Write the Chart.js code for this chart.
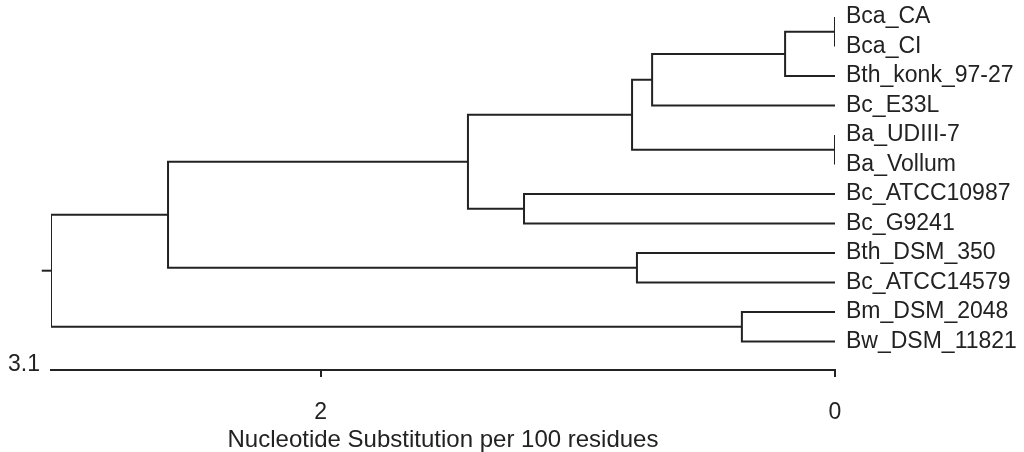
<!DOCTYPE html>
<html>
<head>
<meta charset="utf-8">
<script src="https://cdn.jsdelivr.net/npm/chart.js@4"></script>
<style>
  body { margin: 0; background: #fff; }
</style>
</head>
<body>
<canvas id="tree" width="1024" height="452"></canvas>
<script>
// leaves, top to bottom
var leafNames = ['Bca_CA', 'Bca_CI', 'Bth_konk_97-27', 'Bc_E33L', 'Ba_UDIII-7', 'Ba_Vollum',
    'Bc_ATCC10987', 'Bc_G9241', 'Bth_DSM_350', 'Bc_ATCC14579', 'Bm_DSM_2048', 'Bw_DSM_11821'];

// merges: ids 0-11 are leaves, merge k gets id 12 + k
var mergeLeft   = [0, 4, 12, 14, 15, 6, 16, 8, 18, 10, 20];
var mergeRight  = [1, 5, 2, 3, 13, 7, 17, 9, 19, 11, 21];
var mergeHeight = [0, 0, 0.194, 0.711, 0.789, 1.209, 1.427, 0.770, 2.593, 0.362, 3.048];
var rootStub = 3.084;

var xTicks = [2, 0];
var axisMaxLabel = '3.1';
var axisTitle = 'Nucleotide Substitution per 100 residues';

var ink = '#222';
var fontName = "'Liberation Sans', Arial, sans-serif";

// position of every node: height and vertical slot
var nodeX = [], nodeY = [];
leafNames.forEach(function (n, i) { nodeX.push(0); nodeY.push(i); });
mergeHeight.forEach(function (h, k) {
    nodeX.push(h);
    nodeY.push((nodeY[mergeLeft[k]] + nodeY[mergeRight[k]]) / 2);
});

var datasets = mergeHeight.map(function (h, k) {
    var a = mergeLeft[k], b = mergeRight[k];
    return {
        data: [
            {x: nodeX[a], y: nodeY[a]},
            {x: h, y: nodeY[a]},
            {x: h, y: nodeY[b]},
            {x: nodeX[b], y: nodeY[b]}
        ]
    };
});
var root = nodeX.length - 1;
datasets.push({
    data: [{x: nodeX[root], y: nodeY[root]}, {x: rootStub, y: nodeY[root]}],
    clip: false
});
datasets.forEach(function (d) {
    d.showLine = true;
    d.borderColor = ink;
    d.borderWidth = 2;
    d.pointRadius = 0;
    d.tension = 0;
    d.fill = false;
});

var maxLabel = {
    id: 'maxLabel',
    afterDraw: function (chart) {
        var c = chart.ctx, xs = chart.scales.x;
        c.save();
        c.font = '23px ' + fontName;
        c.fillStyle = ink;
        c.textAlign = 'right';
        c.textBaseline = 'alphabetic';
        c.fillText(axisMaxLabel, xs.left - 11, xs.top + 1);
        c.restore();
    }
};

Chart.defaults.font.family = fontName;
Chart.defaults.color = ink;

new Chart(document.getElementById('tree'), {
    type: 'scatter',
    data: { datasets: datasets },
    plugins: [maxLabel],
    options: {
        responsive: false,
        animation: false,
        layout: { padding: { left: 51, top: 0, right: 0, bottom: 0 } },
        plugins: { legend: { display: false }, tooltip: { enabled: false } },
        scales: {
            x: {
                type: 'linear',
                reverse: true,
                min: 0,
                max: mergeHeight[mergeHeight.length - 1],
                afterBuildTicks: function (s) { s.ticks = xTicks.map(function (v) { return {value: v}; }); },
                afterFit: function (s) { s.height = 82; s.paddingLeft = 0; s.paddingRight = 0; },
                ticks: { font: { size: 23 }, padding: 22, color: ink, maxRotation: 0 },
                grid: { drawOnChartArea: false, drawTicks: true, tickLength: 7, color: ink, lineWidth: 2 },
                border: { display: true, color: ink, width: 2 },
                title: { display: true, text: axisTitle, font: { size: 24, lineHeight: 1 }, padding: 0, color: ink }
            },
            y: {
                type: 'linear',
                position: 'right',
                reverse: true,
                min: -0.58,
                max: 11.97,
                afterBuildTicks: function (s) { s.ticks = leafNames.map(function (n, i) { return {value: i}; }); },
                afterFit: function (s) { s.width = 189; s.paddingTop = 0; s.paddingBottom = 0; },
                ticks: {
                    font: { size: 23 },
                    padding: 11,
                    color: ink,
                    callback: function (v) { return leafNames[v]; }
                },
                grid: { display: false, drawTicks: false },
                border: { display: false }
            }
        }
    }
});
</script>
</body>
</html>
